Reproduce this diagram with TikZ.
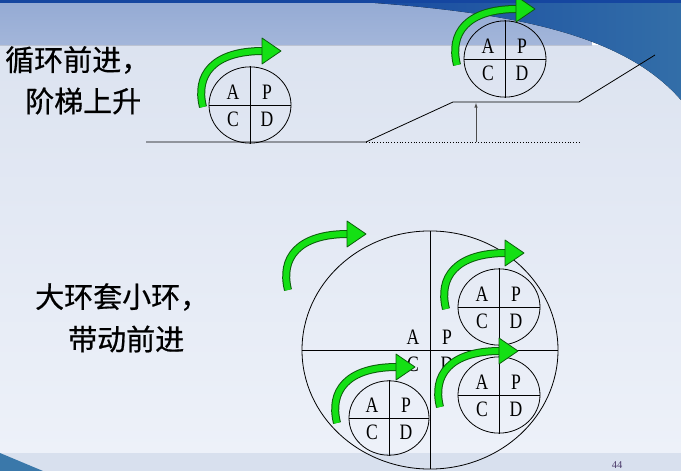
\documentclass[tikz,border=0pt]{standalone}
\usepackage{fontspec}
\setmainfont{Liberation Serif}
\newfontfamily\cjk[FakeBold=0.6]{Noto Sans CJK SC}
\newfontfamily\pdcafont[FakeStretch=0.8]{Liberation Serif}
\usetikzlibrary{arrows,shapes.geometric}

\definecolor{slidetop}{HTML}{DCE3F0}
\definecolor{slidebot}{HTML}{EDF1F9}
\definecolor{bandblue}{HTML}{A3B6DA}
\definecolor{darkblue}{HTML}{1546A0}
\definecolor{tealblue}{HTML}{3A78AA}
\definecolor{footband}{HTML}{D8E0EE}
\definecolor{turnfill}{HTML}{14E014}
\definecolor{turnedge}{HTML}{0B5E0B}
\definecolor{pagenum}{HTML}{4A3A6A}

\tikzset{
  pdca/.pic={
    \node[ring, minimum width=#1, minimum height=0.93*#1] (-ring) at (0,0) {};
    \draw[line width=0.8pt] (-ring.north) -- (-ring.south) (-ring.west) -- (-ring.east);
    \node[letter] (-a) at (-17,-13) {A};
    \node[letter] (-p) at (17,-13) {P};
    \node[letter] (-c) at (-17,14) {C};
    \node[letter] (-d) at (17,14) {D};
  },
  greenturn/.pic={
    \draw[turnedge, line width=8pt] (0,0) .. controls (-8,-32) and (10,-56) .. (60,-56);
    \draw[turnfill, line width=6pt] (0,0) .. controls (-8,-32) and (10,-56) .. (60,-56);
    \filldraw[fill=turnfill, draw=turnedge, line width=0.8pt, line join=round] (59,-69) -- (78,-56) -- (59,-43) -- cycle;
  },
}

\begin{document}
\begin{tikzpicture}[x=1pt, y=-1pt, >=latex,
  ring/.style={draw, ellipse, inner sep=0pt, line width=0.8pt},
  letter/.style={font=\pdcafont\fontsize{22}{22}\selectfont, inner sep=0pt},
  slogan/.style={font=\cjk\fontsize{29}{29}\selectfont, anchor=west, inner sep=0pt},
  ground/.style={line width=0.8pt}]

\useasboundingbox (0,0) rectangle (681,471);

\fill[top color=slidetop, bottom color=slidebot] (0,45) rectangle (681,453);
\fill[footband] (0,453) rectangle (681,471);
\fill[tealblue] (0,453) -- (43,471) -- (0,471) -- cycle;
\fill[top color=bandblue!90!darkblue, bottom color=bandblue] (0,3) -- (575,3) .. controls (590,20) .. (592,45) -- (0,45) -- cycle;
\fill[left color=darkblue, right color=tealblue!80!darkblue] (330,0) .. controls (500,10) and (620,30) .. (681,100) -- (681,0) -- cycle;
\fill[darkblue] (0,0) rectangle (681,3);

\node[slogan] (t1) at (5,60) {循环前进，};
\node[slogan] (t2) at (25,101) {阶梯上升};
\node[slogan] (t3) at (35,297) {大环套小环，};
\node[slogan] (t4) at (68,339) {带动前进};

\coordinate (g0) at (146,142);
\coordinate (g1) at (366,142);
\coordinate (s0) at (453,102);
\coordinate (s1) at (579,102);
\coordinate (s2) at (655,55);
\coordinate (g2) at (579,142);
\coordinate (gm) at (476,142);
\coordinate (sm) at (476,103);
\draw[ground] (g0) -- (g1) -- (s0) -- (s1) -- (s2);
\draw[ground, dotted] (g1) -- (g2);
\draw[->, black!70, line width=0.6pt] (gm) -- (sm);

\pic (low) at (250,105) {pdca=82};
\pic (high) at (505,59) {pdca=82};

\pic (big) at (430,350) {pdca=256};
\pic (ur) at (499,307) {pdca=82};
\pic (lr) at (499,395) {pdca=82};
\pic (bl) at (389,418) {pdca=80};

\pic at (203,107) {greenturn};
\pic at (457,65) {greenturn};
\pic at (288,290) {greenturn};
\pic at (446,309) {greenturn};
\pic at (440,407) {greenturn};
\pic at (337,423) {greenturn};

\node[font=\fontsize{10.5}{10.5}\selectfont, text=pagenum] (page) at (617,465) {44};
\end{tikzpicture}
\end{document}
